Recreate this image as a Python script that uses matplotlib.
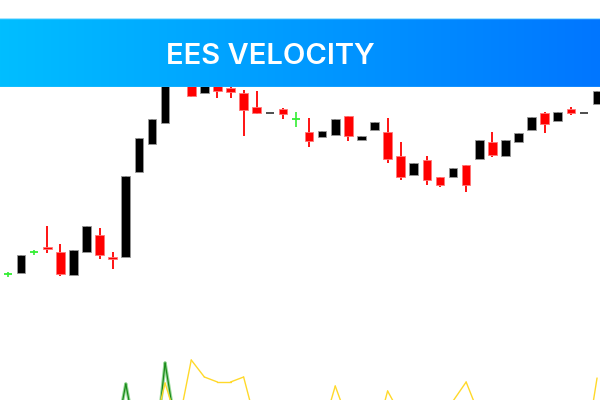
import numpy as np
import matplotlib
matplotlib.use("Agg")
import matplotlib.pyplot as plt
from matplotlib.collections import LineCollection

# candle data (price units), first candle partly off the left edge
opens = [128, 126, 127, 148, 153, 148, 125, 148, 165, 143, 143, 228, 256, 277, 328, 325, 307, 316, 312,
         307, 293, 287, 291, 281, 268, 263, 265, 284, 260, 270, 268, 244, 225, 240, 223, 223, 235, 241,
         258, 244, 258, 270, 287, 279, 291, 287, 296]
highs = [130, 128, 145, 150, 174, 156, 150, 174, 172, 148, 224, 262, 281, 330, 345, 330, 318, 320, 318,
         310, 309, 287, 292, 288, 282, 269, 281, 284, 264, 278, 282, 258, 237, 244, 223, 232, 235, 260,
         268, 260, 267, 283, 288, 288, 293, 287, 309]
lows = [120, 123, 127, 145, 147, 124, 125, 148, 141, 131, 143, 228, 256, 277, 328, 303, 307, 302, 302,
        264, 286, 287, 281, 273, 253, 263, 265, 259, 260, 270, 237, 220, 225, 215, 213, 223, 208, 241,
        243, 244, 258, 270, 267, 279, 285, 287, 296]
closes = [122, 126, 145, 148, 151, 126, 150, 174, 145, 141, 224, 262, 281, 330, 345, 304, 318, 309, 308,
          290, 287, 287, 286, 281, 259, 269, 281, 264, 264, 278, 241, 223, 237, 220, 215, 232, 215, 260,
          245, 260, 267, 283, 276, 288, 287, 287, 309]
doji_gray = [21, 45]  # array positions of the flat gray dojis

# indicator lines at the bottom
yellow = [-40, -40, -40, -40, -40, -40, -40, -40, -40, -40, -40, -40, -38, 17, -26, 40, 23, 18, 18, 23,
          -27, -30, -30, -30, -30, -31, 14, -22, -30, -40, 9, -15, -30, -30, -30, -1, 18, -15, -30, -30,
          -30, -30, -30, -30, -30, -60, 22]
green = [-60, -60, -60, -60, -60, -60, -60, -60, -60, -53, 16, -53, -83, 37, -43, -60, -60, -60, -60,
         -60, -60, -60, -60, -60, -60, -60, -60, -60, -60, -60, -60, -60, -60, -60, -60, -60, -60, -60,
         -60, -60, -60, -60, -60, -60, -60, -60, -60]

title = "EES VELOCITY"

fig = plt.figure(figsize=(6, 4), dpi=100)
ax = fig.add_axes([0, 0, 1, 1])
x = np.arange(len(opens)) - 1
step = 13.09

for i, (o, h, l, c) in enumerate(zip(opens, highs, lows, closes)):
    xi = x[i]
    if o == c:
        col = '#404040' if i in doji_gray else '#33ee33'
        ax.hlines(o, xi - 0.3, xi + 0.3, color=col, lw=1.3, zorder=3)
        if h != l:
            ax.vlines(xi, l, h, color=col, lw=1.2, zorder=3)
        continue
    col = '#000000' if c > o else '#ff0000'
    edge = '#999999' if c > o else '#ff7777'
    ax.vlines(xi, l, h, color=col, lw=1.3, zorder=2)
    lo, hi = min(o, c), max(o, c)
    ax.bar(xi, max(hi - lo, 2), bottom=lo, width=0.66, color=col,
           edgecolor=edge, linewidth=0.6, zorder=3)


def segments(vals):
    pts = np.column_stack([x, vals])
    return np.stack([pts[:-1], pts[1:]], axis=1)


ax.add_collection(LineCollection(segments(green), colors='#7fcf7f', linewidths=2.4,
                                 alpha=0.8, capstyle='round', zorder=1))
ax.add_collection(LineCollection(segments(green), colors='#1a8a1a', linewidths=0.9,
                                 capstyle='round', zorder=1))
ax.add_collection(LineCollection(segments(yellow), colors='#ffd92a', linewidths=1.0,
                                 capstyle='round', zorder=1))

ax.set_xlim(-8 / step, 592 / step)
ax.set_ylim(0, 400)
ax.axis('off')

# gradient banner
bax = fig.add_axes([0, 1 - 87 / 400, 1, 69 / 400])
grad = np.linspace(0, 1, 256)
c0 = np.array([0, 190, 255]) / 255
c1 = np.array([0, 118, 255]) / 255
img = c0[None, :] + (c1 - c0)[None, :] * grad[:, None]
bax.imshow(img[None, :, :], aspect='auto', extent=[0, 1, 0, 1])
bax.axhline(0.995, color='#a8e4ff', lw=1.0)
bax.axhline(0.005, color='#66c8ff', lw=1.0)
bax.set_xlim(0, 1)
bax.set_ylim(0, 1)
bax.axis('off')

fig.text(270 / 600, 1 - 56 / 400, title, color='white', fontsize=21,
         fontfamily='Inter', fontweight='semibold', ha='center', va='center')

fig.savefig('out.png', dpi=100)
